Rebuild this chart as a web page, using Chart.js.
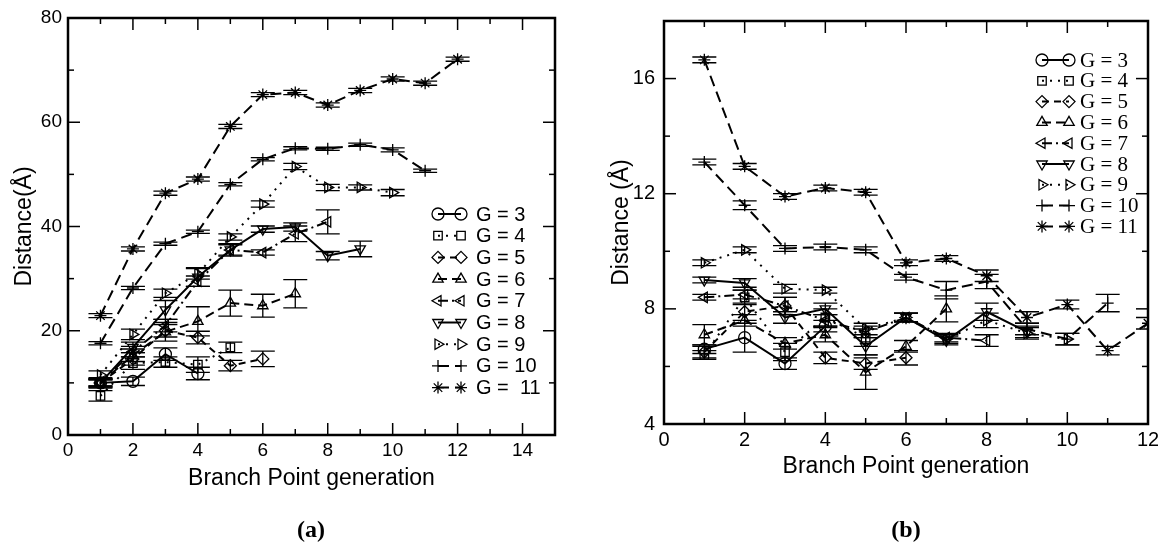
<!DOCTYPE html>
<html lang="en">
<head>
    <title>Distance vs Branch Point generation</title>
    <meta charset="utf-8" />
    <script src="https://cdn.jsdelivr.net/npm/chart.js"></script>
    <style>
        html, body { margin: 0; padding: 0; background: #fff; overflow: hidden; }
        #page { position: relative; width: 1158px; height: 550px; }
        .panel { position: absolute; top: 0; height: 550px; }
        #wrapA { left: 0; width: 580px; }
        #wrapB { left: 580px; width: 590px; }
        .tag { position: absolute; top: 516px; transform: translateX(-50%);
               font: bold 24px "Liberation Serif", "Times New Roman", serif; }
    </style>
</head>
<body>
<div id="page">
    <div class="panel" id="wrapA"><canvas id="chartA"></canvas></div>
    <div class="panel" id="wrapB"><canvas id="chartB"></canvas></div>
    <div class="tag" style="left:311px">(a)</div>
    <div class="tag" style="left:906px">(b)</div>
</div>

<script>
    // branch point generation (x) and legend texts
    var branchGen = [1, 2, 3, 4, 5, 6, 7, 8, 9, 10, 11, 12];
    var legendA = ['G = 3', 'G = 4', 'G = 5', 'G = 6', 'G = 7', 'G = 8', 'G = 9', 'G = 10', 'G =  11'];
    var legendB = ['G = 3', 'G = 4', 'G = 5', 'G = 6', 'G = 7', 'G = 8', 'G = 9', 'G = 10', 'G = 11'];

    // panel (a): distance (Å) and error
    var distA3 = [10, 10.3, 15.5, 11.8];
    var distA4 = [7.5, 13.8, 14, 13.5, 16.8];
    var distA5 = [10, 14.6, 20, 18.7, 13.3, 14.6];
    var distA6 = [10, 15.3, 19.8, 21.8, 25.3, 24.8, 27.1];
    var distA7 = [10, 16, 21, 29.5, 35.5, 35, 38.6, 40.9];
    var distA8 = [10, 16.8, 24, 30.3, 35.5, 39.5, 39.9, 34.4, 35.7];
    var distA9 = [11.5, 19.3, 27.2, 30.9, 38, 44.3, 51.5, 47.5, 47.5, 46.5];
    var distA10 = [17.6, 28.2, 36.7, 39, 48.1, 52.9, 55, 54.9, 55.7, 54.7, 50.7];
    var distA11 = [22.9, 35.7, 46.4, 49.1, 59.2, 65.3, 65.7, 63.3, 66.1, 68.3, 67.5, 72.1];

    var errA3 = [0.6, 0.8, 1.2, 1.2];
    var errA4 = [1, 1.2, 1, 1.5, 1];
    var errA5 = [0.8, 1.2, 1.2, 1.2, 1, 1.5];
    var errA6 = [1, 1.2, 1.8, 2.8, 2.5, 2.2, 2.7];
    var errA7 = [0.6, 1, 1.2, 1, 1, 0.5, 1.5, 2.3];
    var errA8 = [0.8, 1, 1.8, 1.8, 1.2, 0.6, 0.8, 0.8, 1.5];
    var errA9 = [0.8, 1, 0.8, 1, 0.6, 0.6, 0.6, 0.6, 0.5, 0.6];
    var errA10 = [0.3, 0.3, 0.3, 0.3, 0.3, 0.3, 0.3, 0.3, 0.3, 0.4, 0.3];
    var errA11 = [0.4, 0.4, 0.4, 0.4, 0.4, 0.4, 0.4, 0.4, 0.4, 0.4, 0.4, 0.4];

    // panel (b)
    var distB3 = [6.6, 7.0, 6.1, 7.4];
    var distB4 = [6.4, 8.4, 6.5, 7.7, 7.0];
    var distB5 = [6.5, 7.9, 8.1, 6.3, 6.1, 6.3];
    var distB6 = [7.1, 7.6, 6.8, 7.1, 5.8, 6.7, 8.0];
    var distB7 = [8.4, 8.5, 8.1, 7.6, 7.2, 7.7, 7.0, 6.9];
    var distB8 = [9.0, 8.9, 7.7, 8.0, 6.7, 7.7, 6.9, 7.9, 7.2];
    var distB9 = [9.6, 10.05, 8.7, 8.65, 7.3, 7.7, 6.95, 7.6, 7.15, 6.95];
    var distB10 = [13.1, 11.6, 10.1, 10.15, 10.05, 9.1, 8.65, 8.95, 7.3, 6.95, 8.2];
    var distB11 = [16.65, 12.95, 11.9, 12.2, 12.05, 9.6, 9.75, 9.15, 7.7, 8.15, 6.55, 7.5];

    var errB3 = [0.15, 0.5, 0.2, 0.2];
    var errB4 = [0.15, 0.25, 0.3, 0.3, 0.3];
    var errB5 = [0.2, 0.3, 0.3, 0.2, 0.2, 0.25];
    var errB6 = [0.35, 0.2, 0.2, 0.25, 0.6, 0.2, 0.45];
    var errB7 = [0.1, 0.15, 0.3, 0.2, 0.2, 0.15, 0.15, 0.2];
    var errB8 = [0.1, 0.15, 0.2, 0.2, 0.3, 0.15, 0.15, 0.3, 0.2];
    var errB9 = [0.1, 0.1, 0.15, 0.1, 0.2, 0.15, 0.15, 0.25, 0.2, 0.2];
    var errB10 = [0.1, 0.15, 0.1, 0.1, 0.1, 0.1, 0.3, 0.25, 0.2, 0.2, 0.3];
    var errB11 = [0.1, 0.1, 0.1, 0.1, 0.1, 0.1, 0.1, 0.2, 0.2, 0.15, 0.15, 0.2];

    var seriesStyle = [
        { shape: 'circle',   rot: 0,   dash: [] },
        { shape: 'rect',     rot: 0,   dash: [2, 6] },
        { shape: 'rectRot',  rot: 0,   dash: [7, 5] },
        { shape: 'triangle', rot: 0,   dash: [9, 5] },
        { shape: 'triangle', rot: -90, dash: [10, 4, 2, 4] },
        { shape: 'triangle', rot: 180, dash: [] },
        { shape: 'triangle', rot: 90,  dash: [2, 6] },
        { shape: 'cross',    rot: 0,   dash: [11, 6] },
        { shape: 'star',     rot: 0,   dash: [11, 6] }
    ];

    var sans = '"Liberation Sans", Arial, sans-serif';
    var serif = '"Liberation Serif", "Times New Roman", serif';
    Chart.defaults.font.family = sans;
    Chart.defaults.color = '#000';

    function makeSet(label, ys, errs, st) {
        return {
            label: label,
            data: ys.map(function (v, i) { return { x: branchGen[i], y: v }; }),
            errorBars: errs,
            borderColor: '#000',
            backgroundColor: 'rgba(0,0,0,0)',
            borderWidth: 2,
            borderDash: st.dash,
            pointStyle: st.shape,
            pointRotation: st.rot,
            pointRadius: 6,
            pointBorderWidth: 1.3,
            pointBorderColor: '#000',
            pointBackgroundColor: 'rgba(0,0,0,0)',
            tension: 0,
            fill: false
        };
    }

    // inward ticks on all four sides plus the frame
    var frameTicks = {
        id: 'frameTicks',
        afterDraw: function (chart, args, o) {
            var ctx = chart.ctx, a = chart.chartArea, x = chart.scales.x, y = chart.scales.y;
            ctx.save();
            ctx.strokeStyle = '#000';
            ctx.lineWidth = 1.5;
            function seg(x1, y1, x2, y2) { ctx.beginPath(); ctx.moveTo(x1, y1); ctx.lineTo(x2, y2); ctx.stroke(); }
            var v, p, len;
            for (v = x.min; v <= x.max + 1e-9; v += o.xMinor) {
                p = x.getPixelForValue(v);
                len = Math.abs(v / o.xMajor - Math.round(v / o.xMajor)) < 1e-6 ? 12 : 6;
                seg(p, a.bottom, p, a.bottom - len);
                seg(p, a.top, p, a.top + len);
            }
            for (v = y.min; v <= y.max + 1e-9; v += o.yMinor) {
                p = y.getPixelForValue(v);
                len = Math.abs((v - o.yBase) / o.yMajor - Math.round((v - o.yBase) / o.yMajor)) < 1e-6 ? 12 : 6;
                seg(a.left, p, a.left + len, p);
                seg(a.right, p, a.right - len, p);
            }
            ctx.lineWidth = 2.5;
            ctx.strokeRect(a.left, a.top, a.right - a.left, a.bottom - a.top);
            ctx.restore();
        }
    };

    // vertical error bars with caps
    var errorBars = {
        id: 'errorBars',
        afterDatasetsDraw: function (chart, args, o) {
            var ctx = chart.ctx, a = chart.chartArea, y = chart.scales.y;
            ctx.save();
            ctx.beginPath();
            ctx.rect(a.left, a.top, a.right - a.left, a.bottom - a.top);
            ctx.clip();
            ctx.strokeStyle = '#000';
            ctx.lineWidth = 1.3;
            chart.data.datasets.forEach(function (ds, i) {
                var meta = chart.getDatasetMeta(i);
                meta.data.forEach(function (pt, j) {
                    var val = ds.data[j].y, e = ds.errorBars[j];
                    var top = y.getPixelForValue(val + e), bot = y.getPixelForValue(val - e);
                    ctx.beginPath();
                    ctx.moveTo(pt.x, top); ctx.lineTo(pt.x, bot);
                    ctx.moveTo(pt.x - o.cap, top); ctx.lineTo(pt.x + o.cap, top);
                    ctx.moveTo(pt.x - o.cap, bot); ctx.lineTo(pt.x + o.cap, bot);
                    ctx.stroke();
                });
            });
            ctx.restore();
        }
    };

    // legend drawn inside the plot area
    var innerLegend = {
        id: 'innerLegend',
        afterDraw: function (chart, args, o) {
            var ctx = chart.ctx;
            ctx.save();
            chart.data.datasets.forEach(function (ds, i) {
                var yy = o.y + i * o.dy;
                ctx.strokeStyle = '#000';
                ctx.fillStyle = 'rgba(0,0,0,0)';
                ctx.lineWidth = 2;
                ctx.setLineDash(ds.borderDash);
                ctx.beginPath(); ctx.moveTo(o.x1, yy); ctx.lineTo(o.x2, yy); ctx.stroke();
                ctx.setLineDash([]);
                ctx.lineWidth = 1.3;
                var ps = { pointStyle: ds.pointStyle, rotation: ds.pointRotation, radius: 6, borderWidth: 1.3 };
                Chart.helpers.drawPoint(ctx, ps, o.x1, yy);
                Chart.helpers.drawPoint(ctx, ps, o.x2, yy);
                ctx.fillStyle = '#000';
                ctx.font = o.font;
                ctx.textBaseline = 'middle';
                ctx.fillText(ds.label, o.tx, yy + 1);
            });
            ctx.restore();
        }
    };

    function buildChart(id, sets, cfg) {
        return new Chart(document.getElementById(id), {
            type: 'line',
            data: { datasets: sets },
            plugins: [errorBars, frameTicks, innerLegend],
            options: {
                responsive: true,
                maintainAspectRatio: false,
                animation: false,
                layout: { padding: { left: 0, top: cfg.top, right: cfg.right, bottom: 0 } },
                scales: {
                    x: {
                        type: 'linear', min: cfg.xMin, max: cfg.xMax,
                        grid: { display: false, drawTicks: false },
                        border: { display: false },
                        ticks: { stepSize: 2, includeBounds: false, autoSkip: false, maxRotation: 0,
                                 padding: cfg.xPad, font: { size: cfg.tickSize } },
                        title: { display: true, text: 'Branch Point generation', font: { size: 23 },
                                 padding: { top: 0, bottom: cfg.xTitlePad } },
                        afterFit: function (s) { s.height = cfg.xHeight; }
                    },
                    y: {
                        min: cfg.yMin, max: cfg.yMax,
                        grid: { display: false, drawTicks: false },
                        border: { display: false },
                        ticks: { stepSize: cfg.yStep, includeBounds: false, padding: cfg.yPad,
                                 font: { size: cfg.tickSize } },
                        title: { display: true, text: cfg.yTitle, font: { size: 23 },
                                 padding: { top: cfg.yTitlePad, bottom: 0 } },
                        afterFit: function (s) { s.width = cfg.yWidth; }
                    }
                },
                plugins: {
                    legend: { display: false },
                    tooltip: { enabled: false },
                    errorBars: { cap: 12 },
                    frameTicks: cfg.ticks,
                    innerLegend: cfg.legend
                }
            }
        });
    }

    var distA = [distA3, distA4, distA5, distA6, distA7, distA8, distA9, distA10, distA11];
    var errA = [errA3, errA4, errA5, errA6, errA7, errA8, errA9, errA10, errA11];
    var distB = [distB3, distB4, distB5, distB6, distB7, distB8, distB9, distB10, distB11];
    var errB = [errB3, errB4, errB5, errB6, errB7, errB8, errB9, errB10, errB11];

    buildChart('chartA', distA.map(function (d, i) { return makeSet(legendA[i], d, errA[i], seriesStyle[i]); }), {
        top: 18, right: 25, xMin: 0, xMax: 15, yMin: 0, yMax: 80, yStep: 20,
        xHeight: 115, yWidth: 68, xPad: 4, yPad: 6, tickSize: 19,
        xTitlePad: 58, yTitlePad: 11, yTitle: 'Distance(Å)',
        ticks: { xMajor: 2, xMinor: 1, yMajor: 20, yMinor: 10, yBase: 0 },
        legend: { x1: 438, x2: 461, tx: 476, y: 214, dy: 21.7, font: '20px ' + sans }
    });

    buildChart('chartB', distB.map(function (d, i) { return makeSet(legendB[i], d, errB[i], seriesStyle[i]); }), {
        top: 16, right: 22, xMin: 0, xMax: 12, yMin: 4, yMax: 18, yStep: 4,
        xHeight: 126, yWidth: 84, xPad: 4, yPad: 9, tickSize: 20,
        xTitlePad: 70, yTitlePad: 28, yTitle: 'Distance (Å)',
        ticks: { xMajor: 2, xMinor: 1, yMajor: 4, yMinor: 2, yBase: 4 },
        legend: { x1: 462, x2: 489, tx: 500, y: 60, dy: 20.8, font: '21px ' + serif }
    });
</script>
</body>
</html>
